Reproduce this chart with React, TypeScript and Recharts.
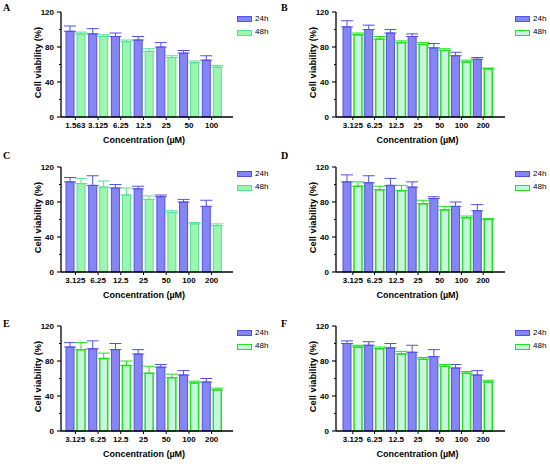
import { BarChart, Bar, XAxis, YAxis, ErrorBar } from "recharts"

const catsA = ["1.563", "3.125", "6.25", "12.5", "25", "50", "100"]
const cats = ["3.125", "6.25", "12.5", "25", "50", "100", "200"]
const yTicks = [0, 20, 40, 60, 80, 100, 120]

// values (mean, upper SD)
const a24 = [98, 95, 92, 88, 80, 73, 65]
const a24Err = [6, 6, 4, 4, 5, 3, 5]
const a48 = [95, 92, 86, 75, 68, 62, 57]
const a48Err = [2, 2, 2, 3, 2, 2, 2]

const b24 = [103, 100, 96, 92, 79, 70, 66]
const b24Err = [7, 5, 4, 3, 5, 4, 2]
const b48 = [94, 89, 85, 83, 76, 63, 55]
const b48Err = [2, 3, 2, 2, 2, 2, 1]

const c24 = [103, 99, 96, 95, 86, 80, 75]
const c24Err = [5, 11, 4, 3, 2, 3, 7]
const c48 = [101, 97, 88, 83, 68, 55, 53]
const c48Err = [6, 7, 8, 4, 2, 1.5, 2]

const d24 = [103, 102, 99, 97, 84, 75, 70]
const d24Err = [8, 8, 8, 6, 2, 5, 7]
const d48 = [98, 94, 93, 78, 71, 62, 60]
const d48Err = [5, 4, 6, 4, 4, 2, 1]

const e24 = [96, 94, 93, 88, 73, 64, 56]
const e24Err = [5, 9, 7, 5, 3, 5, 4]
const e48 = [93, 83, 75, 66, 61, 55, 47]
const e48Err = [8, 6, 5, 8, 4, 2, 2]

const f24 = [100, 98, 95, 90, 85, 72, 64]
const f24Err = [3, 4, 5, 8, 8, 4, 5]
const f48 = [96, 94, 88, 82, 74, 66, 56]
const f48Err = [2, 2, 3, 2, 2, 2, 2]

const BLUE = { fill: "#8585f4", stroke: "#5252e4" }
const MINT = { fill: "#9cf6b0", stroke: "#55e096" }
const LIME = { fill: "#c8f6dc", stroke: "#22e022" }

const FONT = "Arial, 'Liberation Sans', sans-serif"

const makeRows = (c: string[], v24: number[], e24: number[], v48: number[], e48: number[]) =>
  c.map((name, i) => ({
    c: name,
    h24: v24[i],
    h48: v48[i],
    err24: [0, e24[i]],
    err48: [0, e48[i]],
  }))

const YTick = (props: any) => {
  const { y, payload } = props
  const v = payload.value
  const major = v % 40 === 0
  return (
    <g>
      <line x1={major ? 57 : 59} x2={61} y1={y} y2={y} stroke="#000" strokeWidth={1.1} />
      {major && (
        <text x={54} y={y} textAnchor="end" dominantBaseline="central" fontSize={8} fontWeight="bold" fontFamily={FONT} fill="#000">
          {v}
        </text>
      )}
    </g>
  )
}

const YLabel = (props: any) => {
  const vb = props.viewBox || { x: 0, y: 12, width: 61, height: 105 }
  const cx = 38
  const cy = vb.y + vb.height / 2 - 2
  return (
    <text x={cx} y={cy} transform={`rotate(-90, ${cx}, ${cy})`} textAnchor="middle" dominantBaseline="central" fontSize={9.3} fontWeight="bold" fontFamily={FONT} fill="#000">
      Cell viability (%)
    </text>
  )
}

const XLabel = (props: any) => {
  const vb = props.viewBox || { x: 61, y: 117, width: 172, height: 38 }
  return (
    <text x={vb.x + vb.width / 2 - 3} y={vb.y + 26} textAnchor="middle" fontSize={9} fontWeight="bold" fontFamily={FONT} fill="#000">
      Concentration (µM)
    </text>
  )
}

type PanelProps = {
  letter: string
  left: number
  top: number
  rows: any[]
  second: { fill: string; stroke: string }
  right: number
  padL: number
  padR: number
  legendX: number
  letterY: number
}

function Panel({ letter, left, top, rows, second, right, padL, padR, legendX, letterY }: PanelProps) {
  const swatch = (c: { fill: string; stroke: string }, y: number) => (
    <div style={{ position: "absolute", left: legendX, top: y, width: 13, height: 4, background: c.fill, border: `1px solid ${c.stroke}` }} />
  )
  const lbl = (t: string, y: number) => (
    <div style={{ position: "absolute", left: legendX + 18, top: y, fontSize: 8, lineHeight: "10px", fontFamily: FONT, color: "#000" }}>{t}</div>
  )
  return (
    <div style={{ position: "absolute", left, top, width: 275, height: 155 }}>
      <BarChart width={275} height={155} data={rows} margin={{ top: 12, right, bottom: 0, left: 0 }} barGap={3} barCategoryGap="8%">
        <XAxis
          dataKey="c"
          interval={0}
          height={38}
          padding={{ left: padL, right: padR }}
          axisLine={{ stroke: "#000", strokeWidth: 1.3 }}
          tickLine={{ stroke: "#000", strokeWidth: 1 }}
          tickSize={3}
          tickMargin={2}
          tick={{ fontSize: 8, fontWeight: "bold", fontFamily: FONT, fill: "#000" }}
          label={{ content: XLabel }}
        />
        <YAxis
          domain={[0, 120]}
          ticks={yTicks}
          width={61}
          interval={0}
          axisLine={{ stroke: "#000", strokeWidth: 1.3 }}
          tickLine={false}
          tick={YTick}
          label={{ content: YLabel }}
        />
        <Bar dataKey="h24" barSize={8} fill={BLUE.fill} stroke={BLUE.stroke} strokeWidth={1} isAnimationActive={false}>
          <ErrorBar dataKey="err24" width={6} stroke={BLUE.stroke} strokeWidth={1} />
        </Bar>
        <Bar dataKey="h48" barSize={8} fill={second.fill} stroke={second.stroke} strokeWidth={second === LIME ? 1.5 : 1} isAnimationActive={false}>
          <ErrorBar dataKey="err48" width={6} stroke={second.stroke} strokeWidth={1} />
        </Bar>
      </BarChart>
      {swatch(BLUE, 16)}
      {lbl("24h", 14)}
      {swatch(second, 30)}
      {lbl("48h", 27)}
      <div style={{ position: "absolute", left: letter === "A" || letter === "C" || letter === "E" ? 3 : 6, top: letterY, fontSize: 10, fontWeight: "bold", lineHeight: "10px", fontFamily: "'Times New Roman', 'Liberation Serif', serif", color: "#000" }}>
        {letter}
      </div>
    </div>
  )
}

export default function App() {
  return (
    <div style={{ position: "absolute", left: 0, top: 0, width: 550, height: 464, overflow: "hidden", background: "#fff" }}>
      <Panel letter="A" left={0} top={0} rows={makeRows(catsA, a24, a24Err, a48, a48Err)} second={MINT} right={42} padL={3} padR={10} legendX={237} letterY={3} />
      <Panel letter="B" left={275} top={0} rows={makeRows(cats, b24, b24Err, b48, b48Err)} second={LIME} right={45} padL={6} padR={11} legendX={240} letterY={3} />
      <Panel letter="C" left={0} top={155} rows={makeRows(cats, c24, c24Err, c48, c48Err)} second={MINT} right={42} padL={3} padR={10} legendX={237} letterY={-4} />
      <Panel letter="D" left={275} top={155} rows={makeRows(cats, d24, d24Err, d48, d48Err)} second={LIME} right={45} padL={6} padR={11} legendX={240} letterY={-4} />
      <Panel letter="E" left={0} top={314} rows={makeRows(cats, e24, e24Err, e48, e48Err)} second={LIME} right={42} padL={3} padR={10} legendX={237} letterY={5} />
      <Panel letter="F" left={275} top={314} rows={makeRows(cats, f24, f24Err, f48, f48Err)} second={LIME} right={45} padL={6} padR={11} legendX={240} letterY={5} />
    </div>
  )
}
